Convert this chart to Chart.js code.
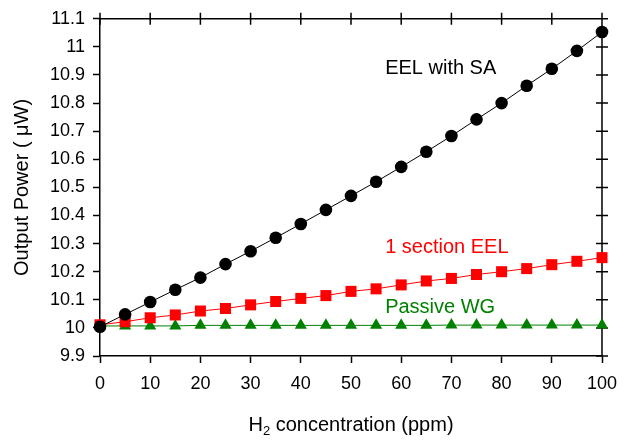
<!DOCTYPE html>
<html>
<head>
<meta charset="utf-8">
<script src="https://cdn.jsdelivr.net/npm/chart.js@4.4.0/dist/chart.umd.min.js"></script>
<style>
html, body { margin: 0; padding: 0; background: #fff; }
</style>
</head>
<body>
<canvas id="Chart1" width="643" height="441"></canvas>
<script>
var concentration = [0, 5, 10, 15, 20, 25, 30, 35, 40, 45, 50, 55, 60, 65, 70, 75, 80, 85, 90, 95, 100];
var eelWithSA = [10.004, 10.048, 10.092, 10.136, 10.179, 10.227, 10.273, 10.321, 10.370, 10.420, 10.470, 10.520, 10.573, 10.627, 10.683, 10.742, 10.800, 10.862, 10.922, 10.986, 11.053];
var oneSectionEEL = [10.011, 10.022, 10.036, 10.046, 10.060, 10.069, 10.082, 10.094, 10.105, 10.115, 10.130, 10.139, 10.153, 10.167, 10.176, 10.190, 10.200, 10.211, 10.225, 10.237, 10.250];
var passiveWG = [10.007, 10.007, 10.007, 10.007, 10.009, 10.009, 10.009, 10.009, 10.009, 10.009, 10.009, 10.009, 10.009, 10.009, 10.010, 10.010, 10.010, 10.010, 10.010, 10.010, 10.010];
var xTicks = [0, 10, 20, 30, 40, 50, 60, 70, 80, 90, 100];
var yTicks = [9.9, 10, 10.1, 10.2, 10.3, 10.4, 10.5, 10.6, 10.7, 10.8, 10.9, 11, 11.1];

var fontName = '"Liberation Sans", Arial, sans-serif';

function toPoints(ys) {
    return concentration.map(function (c, i) { return { x: c, y: ys[i] }; });
}

// text labels next to the curves, placed in data coordinates
var curveLabels = [
    { text: 'EEL with SA', x: 56.8, y: 10.923, color: 'black' },
    { text: '1 section EEL', x: 56.8, y: 10.287, color: '#ff0000' },
    { text: 'Passive WG', x: 56.8, y: 10.074, color: '#008000' }
];

var framePlugin = {
    id: 'frame',
    beforeDatasetsDraw: function (chart) {
        var ctx = chart.ctx, a = chart.chartArea, xs = chart.scales.x, ys = chart.scales.y;
        ctx.save();
        ctx.strokeStyle = 'black';
        ctx.lineWidth = 1.5;
        ctx.beginPath();
        ctx.moveTo(a.left, a.top); ctx.lineTo(a.right, a.top);
        ctx.moveTo(a.right, a.top); ctx.lineTo(a.right, a.bottom);
        xTicks.forEach(function (v) {
            var px = xs.getPixelForValue(v);
            ctx.moveTo(px, a.top - 6); ctx.lineTo(px, a.top + 6);
        });
        yTicks.forEach(function (v) {
            var py = ys.getPixelForValue(v);
            ctx.moveTo(a.right - 6, py); ctx.lineTo(a.right + 6, py);
        });
        ctx.stroke();
        ctx.restore();
    },
    afterDraw: function (chart) {
        var ctx = chart.ctx, a = chart.chartArea, xs = chart.scales.x, ys = chart.scales.y;
        ctx.save();
        ctx.font = '20px ' + fontName;
        ctx.textBaseline = 'middle';
        ctx.textAlign = 'left';
        curveLabels.forEach(function (l) {
            ctx.fillStyle = l.color;
            ctx.fillText(l.text, xs.getPixelForValue(l.x), ys.getPixelForValue(l.y));
        });
        // x axis title with subscript
        var big = '20px ' + fontName, small = '13px ' + fontName;
        var p1 = 'H', p2 = '2', p3 = ' concentration (ppm)';
        ctx.font = big; var w1 = ctx.measureText(p1).width, w3 = ctx.measureText(p3).width;
        ctx.font = small; var w2 = ctx.measureText(p2).width;
        var x0 = (a.left + a.right) / 2 - (w1 + w2 + w3) / 2;
        var base = 431;
        ctx.textBaseline = 'alphabetic';
        ctx.fillStyle = 'black';
        ctx.font = big; ctx.fillText(p1, x0, base);
        ctx.font = small; ctx.fillText(p2, x0 + w1, base + 4);
        ctx.font = big; ctx.fillText(p3, x0 + w1 + w2, base);
        ctx.restore();
    }
};

var ctx = document.getElementById('Chart1').getContext('2d');
var Chart1 = new Chart(ctx, {
    type: 'line',
    data: {
        datasets: [{
            label: 'EEL with SA',
            data: toPoints(eelWithSA),
            borderColor: 'black',
            backgroundColor: 'black',
            borderWidth: 1,
            pointStyle: 'circle',
            pointRadius: 6.3,
            pointBorderWidth: 0,
            clip: false,
            tension: 0
        }, {
            label: '1 section EEL',
            data: toPoints(oneSectionEEL),
            borderColor: '#ff0000',
            backgroundColor: '#ff0000',
            borderWidth: 1,
            pointStyle: 'rect',
            pointRadius: 7.8,
            pointBorderWidth: 0,
            clip: false,
            tension: 0
        }, {
            label: 'Passive WG',
            data: toPoints(passiveWG),
            borderColor: '#008000',
            backgroundColor: '#008000',
            borderWidth: 1,
            pointStyle: 'triangle',
            pointRadius: 7,
            pointBorderWidth: 0,
            clip: false,
            tension: 0
        }]
    },
    options: {
        responsive: false,
        animation: false,
        events: [],
        layout: { padding: { top: 12, right: 41, left: 0, bottom: 0 } },
        plugins: {
            legend: { display: false },
            tooltip: { enabled: false }
        },
        scales: {
            x: {
                type: 'linear',
                min: 0,
                max: 100,
                afterFit: function (scale) { scale.height = 85; },
                afterBuildTicks: function (scale) {
                    scale.ticks = xTicks.map(function (v) { return { value: v }; });
                },
                ticks: {
                    color: 'black',
                    font: { family: fontName, size: 18 },
                    padding: 10,
                    maxRotation: 0,
                    autoSkip: false
                },
                grid: {
                    drawOnChartArea: false,
                    color: 'black',
                    tickLength: 7,
                    tickWidth: 1.5
                },
                border: { display: true, color: 'black', width: 1.5 }
            },
            y: {
                type: 'linear',
                min: 9.9,
                max: 11.1,
                afterFit: function (scale) { scale.width = 100; },
                afterBuildTicks: function (scale) {
                    scale.ticks = yTicks.map(function (v) { return { value: v }; });
                },
                ticks: {
                    color: 'black',
                    font: { family: fontName, size: 18 },
                    padding: 8,
                    autoSkip: false,
                    callback: function (v) { return String(Math.round(v * 10) / 10); }
                },
                grid: {
                    drawOnChartArea: false,
                    color: 'black',
                    tickLength: 7,
                    tickWidth: 1.5
                },
                border: { display: true, color: 'black', width: 1.5 },
                title: {
                    display: true,
                    text: 'Output Power ( \u03bcW)',
                    color: 'black',
                    font: { family: fontName, size: 20 },
                    padding: { top: 10, bottom: 0 }
                }
            }
        }
    },
    plugins: [framePlugin]
});
</script>
</body>
</html>
